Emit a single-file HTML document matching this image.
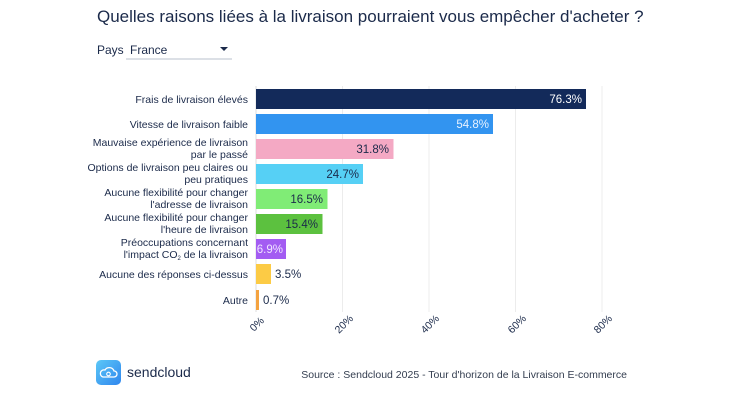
<!DOCTYPE html>
<html><head><meta charset="utf-8"><style>
body{margin:0;width:743px;height:407px;background:#fff;overflow:hidden;font-family:"Liberation Sans",sans-serif;}
</style></head><body>
<svg width="743" height="407" xmlns="http://www.w3.org/2000/svg" font-family="Liberation Sans, sans-serif">
<text x="97" y="22" font-size="17" fill="#1b2a4a">Quelles raisons liées à la livraison pourraient vous empêcher d'acheter ?</text>
<text x="97" y="54" font-size="12" fill="#1b2a4a">Pays</text>
<text x="130" y="54" font-size="12" fill="#1b2a4a">France</text>
<polygon points="220,47 228,47 224,51" fill="#1b2a4a"/>
<line x1="126" y1="59" x2="232" y2="59" stroke="#b8c0cc" stroke-width="1"/>
<g stroke="#ececec" stroke-width="1">
<line x1="342.5" y1="86" x2="342.5" y2="312"/><line x1="429" y1="86" x2="429" y2="312"/>
<line x1="515.5" y1="86" x2="515.5" y2="312"/><line x1="602" y1="86" x2="602" y2="312"/>
</g>
<line x1="256" y1="86" x2="256" y2="312" stroke="#ddd"/>
<g>
<rect x="256" y="89" width="330" height="20" fill="#132a5a"/>
<rect x="256" y="114" width="237" height="20" fill="#3294f0"/>
<rect x="256" y="139" width="137.5" height="20" fill="#f4a9c4"/>
<rect x="256" y="164" width="107" height="20" fill="#56d0f5"/>
<rect x="256" y="189" width="71.5" height="20" fill="#80ec76"/>
<rect x="256" y="214" width="66.5" height="20" fill="#5cc13f"/>
<rect x="256" y="239" width="30" height="20" fill="#a35cf2"/>
<rect x="256" y="264" width="15" height="20" fill="#fccb45"/>
<rect x="256" y="290" width="3" height="20" fill="#f4a340"/>
</g>
<g font-size="11.5" text-anchor="end">
<text x="582" y="103" fill="#fff">76.3%</text>
<text x="489" y="128" fill="#e8f2ff">54.8%</text>
<text x="389" y="153" fill="#1b2a4a">31.8%</text>
<text x="359" y="178" fill="#1b2a4a">24.7%</text>
<text x="323" y="203" fill="#1b2a4a">16.5%</text>
<text x="318" y="228" fill="#1b2a4a">15.4%</text>
<text x="283" y="253" fill="#f0e6ff">6.9%</text>
</g>
<g font-size="11.5" fill="#1b2a4a">
<text x="275" y="278">3.5%</text>
<text x="263" y="304">0.7%</text>
</g>
<g font-size="10.5" fill="#1b2a4a" text-anchor="end">
<text x="248" y="103">Frais de livraison élevés</text>
<text x="248" y="128">Vitesse de livraison faible</text>
<text x="248" y="146">Mauvaise expérience de livraison</text>
<text x="248" y="158">par le passé</text>
<text x="248" y="171">Options de livraison peu claires ou</text>
<text x="248" y="183">peu pratiques</text>
<text x="248" y="196">Aucune flexibilité pour changer</text>
<text x="248" y="208">l'adresse de livraison</text>
<text x="248" y="221">Aucune flexibilité pour changer</text>
<text x="248" y="233">l'heure de livraison</text>
<text x="248" y="246">Préoccupations concernant</text>
<text x="248" y="258">l'impact CO<tspan font-size="6" dy="2">2</tspan><tspan dy="-2"> de la livraison</tspan></text>
<text x="248" y="278">Aucune des réponses ci-dessus</text>
<text x="248" y="304">Autre</text>
</g>
<g font-size="10.5" fill="#1b2a4a">
<text transform="translate(254,332) rotate(-45)">0%</text>
<text transform="translate(339,334) rotate(-45)">20%</text>
<text transform="translate(425,334) rotate(-45)">40%</text>
<text transform="translate(512,334) rotate(-45)">60%</text>
<text transform="translate(598,334) rotate(-45)">80%</text>
</g>
<defs><linearGradient id="g" x1="0" y1="0" x2="1" y2="1"><stop offset="0" stop-color="#5cc8f7"/><stop offset="1" stop-color="#2f86ee"/></linearGradient></defs>
<rect x="96" y="360" width="25" height="25" rx="5" fill="url(#g)"/>
<path d="M103 377 h11 a3 3 0 0 0 0 -6 a5 5 0 0 0 -9 -1 a3 3 0 0 0 -2 7z" fill="none" stroke="#fff" stroke-width="1.3"/>
<circle cx="108.5" cy="374" r="1.8" fill="none" stroke="#fff" stroke-width="1.1"/>
<text x="127" y="377" font-size="14" fill="#1b2a4a">sendcloud</text>
<text x="627" y="378" font-size="10.5" fill="#333d4f" text-anchor="end">Source : Sendcloud 2025 - Tour d'horizon de la Livraison E-commerce</text>
</svg>
</body></html>
